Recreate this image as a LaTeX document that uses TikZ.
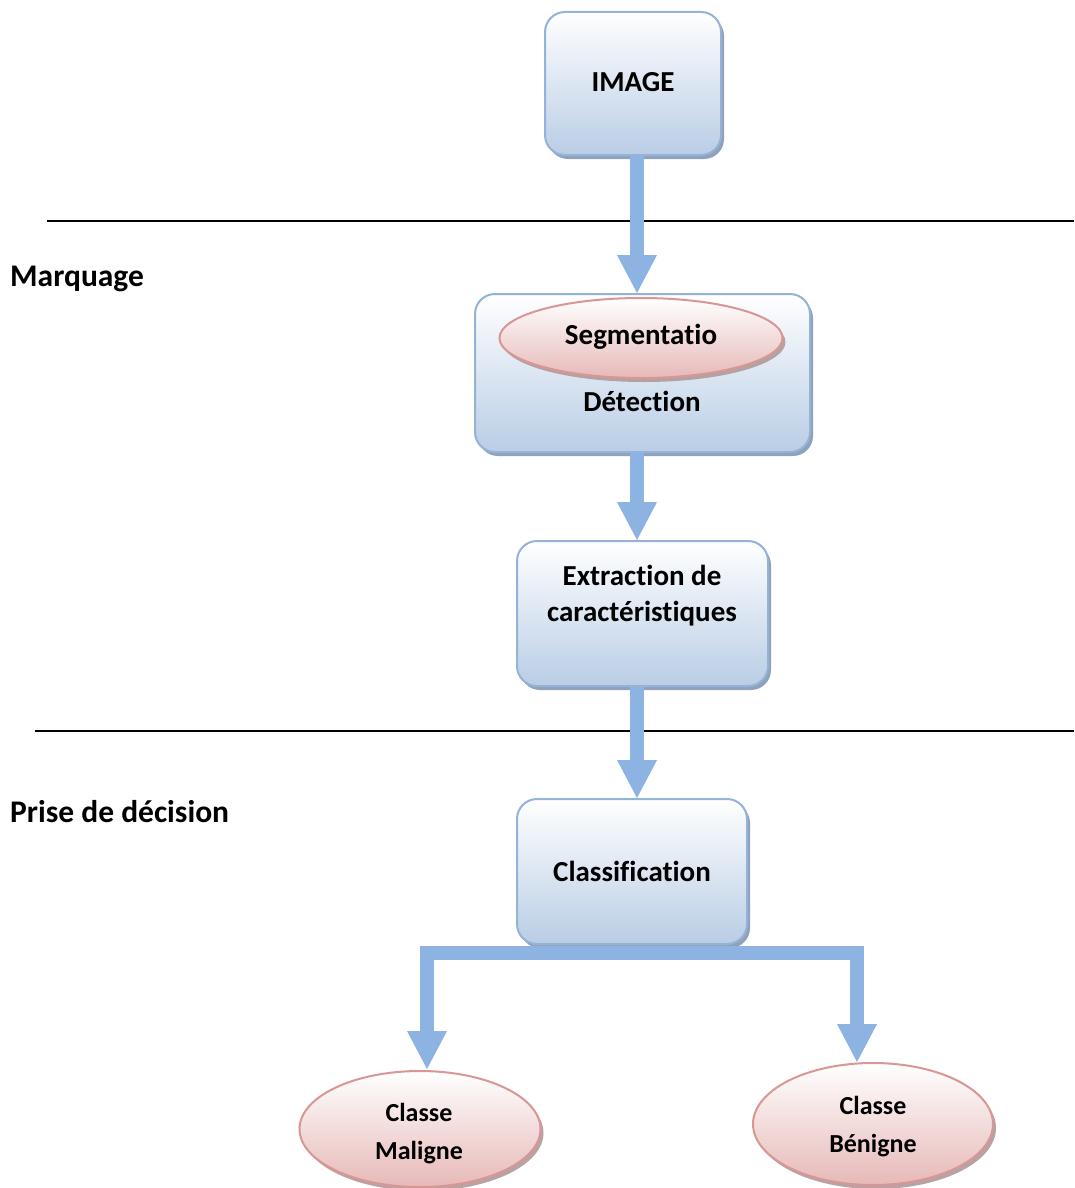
\documentclass[tikz,border=0pt]{standalone}
\usepackage{fontspec}
\setmainfont{Carlito}[Ligatures={NoCommon}]
\usetikzlibrary{shapes.geometric,shadows,arrows.meta}
\definecolor{boxb}{HTML}{95B3D7}
\definecolor{boxbot}{HTML}{B9CDE5}
\definecolor{boxsh}{HTML}{8498B4}
\definecolor{elb}{HTML}{D99694}
\definecolor{elbot}{HTML}{E6B9B8}
\definecolor{elsh}{HTML}{B09A9A}
\definecolor{flowc}{HTML}{8DB3E2}
\begin{document}
\begin{tikzpicture}[x=1pt,y=-1pt,
  bluebox/.style={draw=boxb, line width=2pt, rounded corners=20pt,
    top color=white, bottom color=boxbot, inner sep=0pt,
    drop shadow={shadow xshift=3pt, shadow yshift=-4pt, fill=boxsh, opacity=0.9}},
  pinkell/.style={ellipse, draw=elb, line width=2pt, top color=white, bottom color=elbot,
    inner sep=0pt,
    drop shadow={shadow xshift=3pt, shadow yshift=-4pt, fill=elsh, opacity=0.9}},
  boxtext/.style={font=\fontsize{29}{36}\selectfont\bfseries, align=center, inner sep=0pt},
  elltext/.style={font=\fontsize{26}{38}\selectfont\bfseries, align=center, inner sep=0pt},
  lbl/.style={font=\fontsize{31.5}{38}\selectfont\bfseries, anchor=west, inner sep=0pt},
  sep/.style={draw=black, line width=1.6pt},
  flow/.style={draw=flowc, line width=14pt, line join=miter,
    -{Triangle[width=40pt,length=38pt,line width=0pt]}}
]
\useasboundingbox (0,0) rectangle (1074,1188);
\fill[white] (0,0) rectangle (1074,1188);

% separator lines
\coordinate (l1a) at (47,221);
\coordinate (l1b) at (1074,221);
\coordinate (l2a) at (35,731);
\coordinate (l2b) at (1074,731);
\draw[sep] (l1a) -- (l1b);
\draw[sep] (l2a) -- (l2b);

% section labels
\node[lbl] (marq) at (10,279) {Marquage};
\node[lbl] (prise) at (10,812) {Prise de décision};

% boxes
\node[bluebox, minimum width=176pt, minimum height=143pt] (img) at (633,83.5) {};
\node[boxtext] (imgt) at (633,82) {IMAGE};

\node[bluebox, minimum width=335pt, minimum height=158pt] (det) at (642.5,373) {};
\node[pinkell, minimum width=283pt, minimum height=80pt] (seg) at (641,338) {};
\node[boxtext] (segt) at (641,337) {Segmentatio};
\node[boxtext] (dett) at (642,401) {Détection};

\node[bluebox, minimum width=251pt, minimum height=145pt] (ext) at (642.5,613.5) {};
\node[boxtext] (extt) at (642,596) {Extraction de\\caractéristiques};

\node[bluebox, minimum width=230pt, minimum height=145pt] (cls) at (632,871.5) {};
\node[boxtext] (clst) at (632,871) {Classification};

% leaf ellipses
\node[pinkell, minimum width=241pt, minimum height=116pt] (mal) at (420,1129) {};
\node[elltext] (malt) at (419,1134) {Classe\\Maligne};
\node[pinkell, minimum width=240pt, minimum height=122pt] (ben) at (873,1124) {};
\node[elltext] (bent) at (873,1127) {Classe\\Bénigne};

% connectors
\draw[flow] (img.south -| 637,0) -- (det.north -| 637,0);
\draw[flow] (det.south -| 637,0) -- (ext.north -| 637,0);
\draw[flow] (ext.south -| 637,0) -- (cls.north -| 637,0);

\coordinate (split) at (637,953);
\coordinate (tipL) at (427,1069);
\coordinate (tipR) at (857,1062);
\draw[flow] (split) -| (tipL);
\draw[flow] (split) -| (tipR);
\end{tikzpicture}
\end{document}
